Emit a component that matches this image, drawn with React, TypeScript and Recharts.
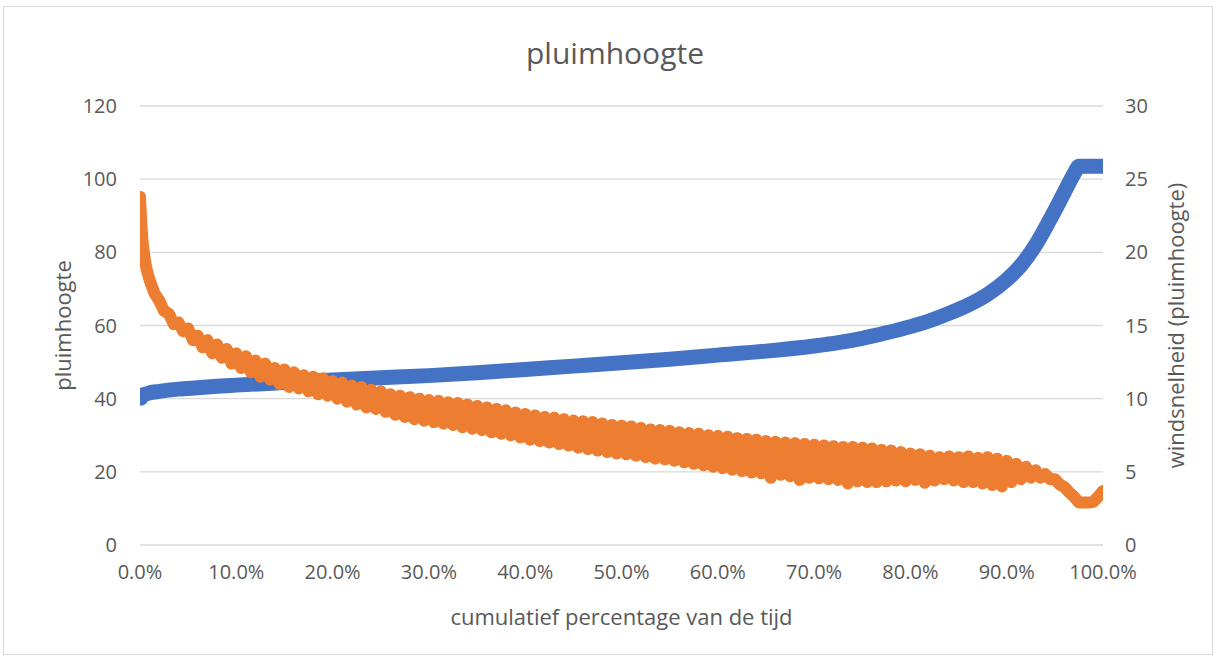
import React from "react";
import {
  ComposedChart,
  Line,
  XAxis,
  YAxis,
  CartesianGrid,
  Label,
} from "recharts";

const FONT = "'Open Sans', 'Segoe UI', sans-serif";
const TEXT = "#595959";
const BLUE = "#4472C4";
const ORANGE = "#ED7D31";

const xTicks = [0, 10, 20, 30, 40, 50, 60, 70, 80, 90, 100];
const leftTicks = [0, 20, 40, 60, 80, 100, 120];
const rightTicks = [0, 5, 10, 15, 20, 25, 30];

// pluimhoogte (left axis)
const heightPct = [
  0, 0.5, 1, 2, 4, 6, 8, 10, 15, 20, 25, 30, 35, 40, 45, 50, 55, 60, 65, 70,
  72.5, 75, 77.5, 80, 82, 84, 86, 88, 90, 91.5, 93, 94.5, 96, 97, 97.5, 98, 99, 100,
];
const heightVal = [
  40.5, 41.2, 41.6, 42.0, 42.6, 43.0, 43.4, 43.7, 44.4, 45.1, 45.7, 46.3, 47.1,
  48.0, 48.9, 49.8, 50.8, 51.9, 53.0, 54.4, 55.3, 56.5, 58.0, 59.7, 61.3, 63.3,
  65.6, 68.5, 72.5, 76.5, 82.0, 89.0, 96.5, 101.5, 103.5, 103.5, 103.5, 103.5,
];

// windsnelheid (right axis)
const windPct = [
  0, 0.1, 0.2, 0.3, 0.5, 0.7,
  1, 1.5, 2, 2.5, 3, 3.5, 4, 4.5, 5, 5.5, 6, 6.5, 7, 7.5, 8, 8.5, 9, 9.5,
  10, 10.5, 11, 11.5, 12, 12.5, 13, 13.5, 14, 14.5, 15, 15.5, 16, 16.5, 17, 17.5,
  18, 18.5, 19, 19.5, 20, 20.5, 21, 21.5, 22, 22.5, 23, 23.5, 24, 24.5, 25, 25.5,
  26, 26.5, 27, 27.5, 28, 28.5, 29, 29.5, 30, 30.5, 31, 31.5, 32, 32.5, 33, 33.5,
  34, 34.5, 35, 35.5, 36, 36.5, 37, 37.5, 38, 38.5, 39, 39.5, 40, 40.5, 41, 41.5,
  42, 42.5, 43, 43.5, 44, 44.5, 45, 45.5, 46, 46.5, 47, 47.5, 48, 48.5, 49, 49.5,
  50, 50.5, 51, 51.5, 52, 52.5, 53, 53.5, 54, 54.5, 55, 55.5, 56, 56.5, 57, 57.5,
  58, 58.5, 59, 59.5, 60, 60.5, 61, 61.5, 62, 62.5, 63, 63.5, 64, 64.5, 65, 65.5,
  66, 66.5, 67, 67.5, 68, 68.5, 69, 69.5, 70, 70.5, 71, 71.5, 72, 72.5, 73, 73.5,
  74, 74.5, 75, 75.5, 76, 76.5, 77, 77.5, 78, 78.5, 79, 79.5, 80, 80.5, 81, 81.5,
  82, 82.5, 83, 83.5, 84, 84.5, 85, 85.5, 86, 86.5, 87, 87.5, 88, 88.5, 89, 89.5,
  90, 90.5, 91, 91.5, 92, 92.5, 93, 93.5, 94, 94.5, 95, 95.5, 96, 96.5, 97, 97.5,
  98, 98.5, 99, 99.5, 100,
];
const windVal = [
  23.8, 22.4, 21.3, 20.5, 19.5, 18.8,
  18.1, 17.2, 16.7, 16.0, 15.8, 15.1, 15.2, 14.6, 14.8, 14.0, 14.3, 13.5, 14.0, 13.1, 13.7, 12.8, 13.4, 12.4,
  13.1, 12.1, 12.9, 11.8, 12.6, 11.5, 12.4, 11.3, 12.1, 11.0, 12.0, 10.8, 11.8, 10.7, 11.6, 10.5,
  11.5, 10.3, 11.4, 10.2, 11.2, 10.0, 11.1, 9.8, 10.9, 9.6, 10.8, 9.4, 10.6, 9.3, 10.5, 9.1,
  10.3, 8.9, 10.2, 8.75, 10.1, 8.6, 10.0, 8.5, 9.9, 8.4, 9.85, 8.3, 9.75, 8.2, 9.7, 8.05,
  9.6, 7.95, 9.5, 7.85, 9.4, 7.7, 9.3, 7.6, 9.2, 7.5, 9.05, 7.35, 8.95, 7.2, 8.85, 7.1,
  8.75, 7.0, 8.7, 6.9, 8.6, 6.8, 8.5, 6.65, 8.45, 6.55, 8.4, 6.45, 8.3, 6.35, 8.2, 6.25,
  8.15, 6.2, 8.1, 6.1, 8.0, 6.0, 7.9, 5.9, 7.85, 5.85, 7.8, 5.75, 7.7, 5.65, 7.65, 5.55,
  7.6, 5.45, 7.5, 5.35, 7.45, 5.25, 7.4, 5.15, 7.3, 5.05, 7.25, 4.95, 7.2, 4.9, 7.1, 4.6,
  7.05, 4.8, 7.0, 4.7, 6.95, 4.45, 6.9, 4.6, 6.85, 4.55, 6.8, 4.5, 6.75, 4.45, 6.7, 4.2,
  6.7, 4.35, 6.65, 4.3, 6.6, 4.3, 6.5, 4.35, 6.45, 4.4, 6.35, 4.35, 6.25, 4.45, 6.2, 4.25,
  6.1, 4.4, 6.0, 4.5, 6.05, 4.4, 6.0, 4.3, 6.05, 4.3, 5.95, 4.2, 6.0, 4.1, 5.9, 4.0,
  5.75, 4.3, 5.55, 4.5, 5.35, 4.6, 5.1, 4.6, 4.85, 4.5, 4.5, 4.15, 3.95, 3.6, 3.3, 2.9,
  2.9, 2.9, 2.95, 3.3, 3.7,
];

const heightData = heightPct.map((x, i) => ({ x, v: heightVal[i] }));
const windData = windPct.map((x, i) => ({ x, v: windVal[i] }));

const tickStyle = { fill: TEXT, fontSize: 20, fontFamily: FONT };

export default function App() {
  return (
    <div
      style={{
        position: "absolute",
        left: 0,
        top: 0,
        width: 1221,
        height: 660,
        background: "#fff",
        fontFamily: FONT,
      }}
    >
      <div
        style={{
          position: "absolute",
          left: 3,
          top: 6,
          width: 1210,
          height: 649,
          border: "1px solid #d9d9d9",
          boxSizing: "border-box",
        }}
      />
      <div
        style={{
          position: "absolute",
          left: 0,
          width: 1230,
          top: 33,
          textAlign: "center",
          fontSize: 30,
          color: TEXT,
          lineHeight: "40px",
        }}
      >
        pluimhoogte
      </div>
      <ComposedChart
        width={1221}
        height={660}
        margin={{ top: 106, right: 0, bottom: 0, left: 0 }}
        style={{ position: "absolute", left: 0, top: 0 }}
      >
        <CartesianGrid
          yAxisId="left"
          vertical={false}
          stroke="#d9d9d9"
          strokeWidth={1.3}
        />
        <XAxis
          type="number"
          dataKey="x"
          domain={[0, 100]}
          ticks={xTicks}
          allowDataOverflow
          axisLine={false}
          tickLine={false}
          tickSize={0}
          tickMargin={20}
          height={115}
          tick={tickStyle}
          tickFormatter={(v: number) => `${v.toFixed(1)}%`}
          interval={0}
        >
          <Label
            content={({ viewBox }: any) => (
              <text
                x={viewBox.x + viewBox.width / 2}
                y={viewBox.y + 71}
                textAnchor="middle"
                dominantBaseline="central"
                fill={TEXT}
                fontSize={22}
                fontFamily={FONT}
              >
                cumulatief percentage van de tijd
              </text>
            )}
          />
        </XAxis>
        <YAxis
          yAxisId="left"
          orientation="left"
          domain={[0, 120]}
          ticks={leftTicks}
          width={140}
          axisLine={false}
          tickLine={false}
          tickSize={0}
          tickMargin={23}
          tick={tickStyle}
          interval={0}
        >
          <Label
            content={({ viewBox }: any) => {
              const cx = viewBox.x + 62;
              const cy = viewBox.y + viewBox.height / 2;
              return (
                <text
                  x={cx}
                  y={cy}
                  transform={`rotate(-90 ${cx} ${cy})`}
                  textAnchor="middle"
                  dominantBaseline="central"
                  fill={TEXT}
                  fontSize={22}
                  fontFamily={FONT}
                >
                  pluimhoogte
                </text>
              );
            }}
          />
        </YAxis>
        <YAxis
          yAxisId="right"
          orientation="right"
          domain={[0, 30]}
          ticks={rightTicks}
          width={118}
          axisLine={false}
          tickLine={false}
          tickSize={0}
          tickMargin={22}
          tick={tickStyle}
          interval={0}
        >
          <Label
            content={({ viewBox }: any) => {
              const cx = viewBox.x + 72;
              const cy = viewBox.y + viewBox.height / 2;
              return (
                <text
                  x={cx}
                  y={cy}
                  transform={`rotate(-90 ${cx} ${cy})`}
                  textAnchor="middle"
                  dominantBaseline="central"
                  fill={TEXT}
                  fontSize={22}
                  fontFamily={FONT}
                >
                  windsnelheid (pluimhoogte)
                </text>
              );
            }}
          />
        </YAxis>
        <Line
          yAxisId="left"
          data={heightData}
          dataKey="v"
          type="monotone"
          stroke={BLUE}
          strokeWidth={15}
          strokeLinecap="round"
          strokeLinejoin="round"
          dot={(p: any) =>
            p.index === 0 ? (
              <circle key="d0" cx={p.cx} cy={p.cy} r={9} fill={BLUE} />
            ) : (
              <g key={`d${p.index}`} />
            )
          }
          activeDot={false}
          isAnimationActive={false}
        />
        <Line
          yAxisId="right"
          data={windData}
          dataKey="v"
          type="linear"
          stroke={ORANGE}
          strokeWidth={12}
          strokeLinecap="round"
          strokeLinejoin="round"
          dot={false}
          activeDot={false}
          isAnimationActive={false}
        />
      </ComposedChart>
    </div>
  );
}
